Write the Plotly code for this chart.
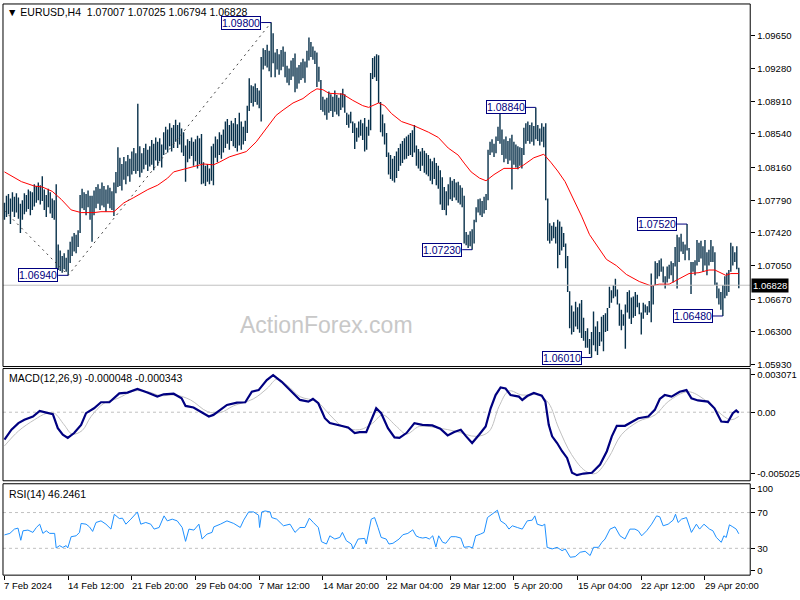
import plotly.graph_objects as go

# ---------------- data ----------------
high = [
 1.0776,1.0784,1.0786,1.0781,1.0788,1.0783,1.0787,1.0782,1.0775,1.0779,
 1.0787,1.0785,1.0791,1.0789,1.0788,1.0797,1.0795,1.0799,1.0796,1.0806,
 1.0791,1.0785,1.0792,1.0788,1.0781,1.0779,1.0797,1.0729,1.0722,1.0716,
 1.0719,1.0714,1.0723,1.0732,1.0738,1.0742,1.0740,1.0745,1.0785,1.0792,
 1.0788,1.0786,1.0790,1.0784,1.0784,1.0790,1.0794,1.0797,1.0792,1.0799,
 1.0795,1.0791,1.0796,1.0793,1.0789,1.0799,1.0811,1.0839,1.0827,1.0820,
 1.0828,1.0823,1.0830,1.0826,1.0834,1.0838,1.0832,1.0888,1.0840,1.0832,
 1.0838,1.0843,1.0836,1.0840,1.0847,1.0843,1.0850,1.0845,1.0849,1.0842,
 1.0856,1.0862,1.0859,1.0866,1.0861,1.0864,1.0870,1.0864,1.0867,1.0860,
 1.0856,1.0841,1.0848,1.0846,1.0850,1.0845,1.0848,1.0852,1.0849,1.0854,
 1.0822,1.0818,1.0820,1.0815,1.0840,1.0843,1.0851,1.0848,1.0856,1.0853,
 1.0859,1.0868,1.0871,1.0864,1.0869,1.0866,1.0872,1.0865,1.0878,1.0868,
 1.0862,1.0869,1.0886,1.0917,1.0909,1.0908,1.0911,1.0906,1.0903,1.0941,
 1.0951,1.0949,1.0955,1.0948,1.0980,1.0968,1.0946,1.0950,1.0944,1.0949,
 1.0953,1.0947,1.0931,1.0928,1.0937,1.0940,1.0945,1.0929,1.0932,1.0935,
 1.0939,1.0936,1.0948,1.0963,1.0958,1.0953,1.0948,1.0946,1.0930,1.0915,
 1.0896,1.0893,1.0895,1.0902,1.0899,1.0896,1.0903,1.0898,1.0895,1.0900,
 1.0905,1.0899,1.0878,1.0876,1.0879,1.0868,1.0866,1.0861,1.0868,1.0870,
 1.0866,1.0872,1.0862,1.0870,1.0923,1.0940,1.0942,1.0944,1.0943,1.0890,
 1.0876,1.0866,1.0855,1.0833,1.0830,1.0826,1.0829,1.0834,1.0838,1.0843,
 1.0846,1.0849,1.0851,1.0853,1.0855,1.0858,1.0864,1.0841,1.0837,1.0834,
 1.0838,1.0835,1.0832,1.0830,1.0826,1.0823,1.0827,1.0821,1.0818,1.0813,
 1.0805,1.0794,1.0789,1.0797,1.0805,1.0801,1.0803,1.0799,1.0800,1.0796,
 1.0793,1.0784,1.0743,1.0740,1.0744,1.0746,1.0757,1.0771,1.0780,1.0781,
 1.0778,1.0783,1.0786,1.0836,1.0845,1.0848,1.0843,1.0851,1.0862,1.0877,
 1.0859,1.0848,1.0851,1.0846,1.0849,1.0853,1.0845,1.0842,1.0840,1.0839,
 1.0838,1.0861,1.0866,1.0868,1.0864,1.0867,1.0863,1.0884,1.0864,1.0860,
 1.0866,1.0862,1.0866,1.0781,1.0753,1.0750,1.0754,1.0749,1.0757,1.0755,
 1.0749,1.0742,1.0730,1.0716,1.0676,1.0660,1.0653,1.0664,1.0658,1.0662,
 1.0666,1.0646,1.0631,1.0634,1.0622,1.0630,1.0653,1.0636,1.0642,1.0630,
 1.0647,1.0649,1.0651,1.0657,1.0681,1.0677,1.0683,1.0690,1.0678,1.0662,
 1.0655,1.0650,1.0661,1.0675,1.0677,1.0669,1.0670,1.0675,1.0672,1.0663,
 1.0652,1.0663,1.0661,1.0659,1.0665,1.0696,1.0683,1.0710,1.0708,1.0711,
 1.0713,1.0704,1.0693,1.0704,1.0706,1.0710,1.0708,1.0726,1.0740,1.0737,
 1.0741,1.0732,1.0729,1.0752,1.0725,1.0709,1.0709,1.0711,1.0734,1.0731,
 1.0733,1.0727,1.0734,1.0720,1.0723,1.0734,1.0727,1.0720,1.0686,1.0679,
 1.0675,1.0683,1.0693,1.0697,1.0700,1.0731,1.0727,1.0720,1.0727,1.07025,
]
low = [
 1.0757,1.0760,1.0763,1.0752,1.0766,1.0760,1.0765,1.0758,1.0742,1.0757,
 1.0763,1.0766,1.0769,1.0762,1.0768,1.0772,1.0776,1.0779,1.0774,1.0778,
 1.0768,1.0760,1.0771,1.0764,1.0759,1.0757,1.0698,1.0700,1.0699,1.0697,
 1.0701,1.0698,1.0694,1.0708,1.0716,1.0721,1.0719,1.0726,1.0742,1.0770,
 1.0768,1.0762,1.0771,1.0757,1.0732,1.0762,1.0770,1.0775,1.0768,1.0773,
 1.0771,1.0766,1.0775,1.0770,1.0768,1.0761,1.0787,1.0794,1.0795,1.0790,
 1.0802,1.0797,1.0806,1.0800,1.0808,1.0812,1.0809,1.0812,1.0805,1.0810,
 1.0814,1.0819,1.0812,1.0817,1.0819,1.0813,1.0824,1.0818,1.0823,1.0816,
 1.0830,1.0836,1.0833,1.0840,1.0834,1.0838,1.0845,1.0838,1.0842,1.0833,
 1.0829,1.0800,1.0822,1.0826,1.0829,1.0818,1.0823,1.0815,1.0820,1.0797,
 1.0798,1.0795,1.0800,1.0797,1.0801,1.0796,1.0827,1.0822,1.0830,1.0826,
 1.0833,1.0838,1.0843,1.0836,1.0846,1.0840,1.0838,1.0834,1.0841,1.0836,
 1.0842,1.0846,1.0855,1.0880,1.0889,1.0885,1.0890,1.0887,1.0883,1.0868,
 1.0927,1.0931,1.0929,1.0925,1.0918,1.0934,1.0918,1.0927,1.0921,1.0926,
 1.0930,1.0918,1.0912,1.0909,1.0915,1.0919,1.0901,1.0905,1.0911,1.0915,
 1.0917,1.0912,1.0929,1.0937,1.0941,1.0938,1.0933,1.0907,1.0913,1.0881,
 1.0879,1.0875,1.0870,1.0878,1.0880,1.0873,1.0879,1.0876,1.0874,1.0881,
 1.0884,1.0878,1.0864,1.0861,1.0866,1.0855,1.0837,1.0845,1.0850,1.0852,
 1.0847,1.0834,1.0836,1.0852,1.0858,1.0916,1.0918,1.0914,1.0889,1.0856,
 1.0851,1.0842,1.0828,1.0808,1.0803,1.0801,1.0799,1.0804,1.0812,1.0818,
 1.0821,1.0825,1.0826,1.0829,1.0830,1.0828,1.0833,1.0818,1.0815,1.0812,
 1.0818,1.0810,1.0808,1.0806,1.0801,1.0797,1.0803,1.0796,1.0792,1.0774,
 1.0768,1.0768,1.0762,1.0773,1.0780,1.0778,1.0782,1.0779,1.0776,1.0774,
 1.0771,1.0730,1.0728,1.0725,1.0727,1.0723,1.0730,1.0754,1.0765,1.0762,
 1.0760,1.0764,1.0768,1.0779,1.0830,1.0833,1.0828,1.0832,1.0846,1.0843,
 1.0830,1.0822,1.0826,1.0820,1.0824,1.0791,1.0819,1.0816,1.0814,1.0818,
 1.0815,1.0830,1.0843,1.0846,1.0843,1.0845,1.0841,1.0848,1.0846,1.0841,
 1.0845,1.0839,1.0779,1.0733,1.0730,1.0733,1.0736,1.0730,1.0702,1.0717,
 1.0722,1.0726,1.0702,1.0675,1.0634,1.0627,1.0630,1.0636,1.0633,1.0629,
 1.0623,1.0620,1.0612,1.0612,1.0605,1.0601,1.0615,1.0608,1.0604,1.0614,
 1.0619,1.0608,1.0630,1.0631,1.0657,1.0663,1.0668,1.0670,1.0661,1.0637,
 1.0632,1.0637,1.0611,1.0652,1.0645,1.0639,1.0646,1.0648,1.0658,1.0650,
 1.0627,1.0645,1.0652,1.0649,1.0652,1.0641,1.0661,1.0683,1.0690,1.0693,
 1.0698,1.0686,1.0679,1.0686,1.0690,1.0694,1.0686,1.0704,1.0679,1.0709,
 1.0721,1.0718,1.0711,1.0722,1.0711,1.0673,1.0698,1.0694,1.0705,1.0709,
 1.0713,1.0698,1.0705,1.0694,1.0705,1.0709,1.0709,1.0683,1.0668,1.0661,
 1.0655,1.0648,1.0668,1.0671,1.0675,1.0698,1.0705,1.0709,1.0701,1.06794,
]
last_close = 1.06828

ma_x = [0, 8.5, 15, 19, 24, 28.5, 33.5, 38.5, 45, 48.5, 55, 60, 65, 72, 77, 82, 85, 92,
        100, 105, 108, 113, 121.5, 126.5, 131.5, 136.5, 140, 145, 150, 154, 157, 160, 163,
        170, 175, 180, 183, 186, 188, 191, 194.5, 199.5, 206, 213, 218, 223, 228, 231,
        234.5, 238.7, 242, 246, 251, 258, 261, 266, 271, 274.5, 278, 281.7, 286, 290, 294,
        298, 302.5, 307.5, 312.5, 319, 325, 329, 334, 339, 344, 349, 354, 357, 362.5, 365, 369]
ma_v = [1.0811, 1.0800, 1.0795, 1.0794, 1.0789, 1.0780, 1.0768, 1.0765, 1.0765, 1.0766,
        1.0766, 1.0776, 1.0782, 1.0791, 1.0796, 1.0804, 1.0811, 1.0815, 1.0820, 1.0819,
        1.0822, 1.0828, 1.0834, 1.0845, 1.0860, 1.0875, 1.0881, 1.0889, 1.0894, 1.0901,
        1.0905, 1.0904, 1.0900, 1.0899, 1.0892, 1.0886, 1.0884, 1.0887, 1.0889, 1.0886,
        1.0877, 1.0868, 1.0863, 1.0856, 1.0850, 1.0838, 1.0830, 1.0821, 1.0811, 1.0804,
        1.0801, 1.0808, 1.0815, 1.0815, 1.0819, 1.0827, 1.0831, 1.0822, 1.0812, 1.0800,
        1.0780, 1.0761, 1.0740, 1.0727, 1.0712, 1.0705, 1.0695, 1.0687, 1.0682, 1.0684,
        1.0684, 1.0690, 1.0696, 1.0697, 1.0700, 1.0700, 1.0694, 1.0696, 1.0696]

zig_x = [0, 32, 134]
zig_v = [1.0767, 1.0694, 1.0980]

ext_idx = [32, 134, 235, 267, 295, 343, 361]
ext_val = [1.0694, 1.0980, 1.0723, 1.0884, 1.0601, 1.0752, 1.0648]

macd_x = [0, 3.5, 7, 10, 14.3, 17.7, 21, 24.3, 26.8, 29.3, 31.8, 35, 38.5, 41, 45, 48.5, 52.7,
          55, 57.7, 61.8, 66.8, 71.8, 76.8, 80, 85, 89, 91, 95, 98.5, 102.7, 105, 111.8,
          116.8, 121, 124.3, 127.7, 131.8, 135, 139.3, 143.5, 148.5, 152.7, 155, 157.7, 161,
          163.5, 168.5, 172.7, 176, 178.5, 181.8, 184.3, 186.8, 189.3, 192.7, 196, 198.5,
          202, 206, 210, 215, 219, 222.7, 226, 229.3, 232, 235, 238.5, 241.8, 244.3, 246.8,
          249.3, 251.8, 254.3, 258.5, 260.2, 262.7, 266, 270, 271.8, 273.5, 275.2, 277.7,
          280.2, 282.7, 285.2, 287.7, 291, 295.2, 299.3, 302.7, 305.2, 307.7, 311.8, 315.2,
          318.5, 323.5, 326.8, 329.3, 331.8, 335.2, 339.3, 342.7, 345.2, 348.5, 353.5, 356.8,
          360.2, 363.5, 366, 367.7, 369]
macd_v = [-0.00224, -0.00143, -0.00089, -0.00062, -0.00035, 0.00010, -0.00003, -0.00016,
          -0.00130, -0.00184, -0.00210, -0.00170, -0.00103, -0.00008, 0.00032, 0.00081,
          0.00081, 0.00113, 0.00154, 0.00160, 0.00189, 0.00160, 0.00127, 0.00146, 0.00151,
          0.00113, 0.00051, 0.00038, 0.00006, -0.00035, -0.00022, 0.00059, 0.00078, 0.00081,
          0.00167, 0.00180, 0.00262, 0.00302, 0.00248, 0.00180, 0.00100, 0.00086, 0.00108,
          0.00073, -0.00049, -0.00089, -0.00108, -0.00124, -0.00170, -0.00162, -0.00162,
          -0.00062, 0.00032, -0.00008, -0.00130, -0.00205, -0.00210, -0.00170, -0.00089,
          -0.00103, -0.00108, -0.00135, -0.00189, -0.00162, -0.00143, -0.00197, -0.00251,
          -0.00184, -0.00116, 0.00032, 0.00140, 0.00202, 0.00193, 0.00140, 0.00127, 0.00100,
          0.00132, 0.00157, 0.00135, 0.00086, -0.00103, -0.00197, -0.00251, -0.00318,
          -0.00373, -0.00494, -0.00513, -0.00500, -0.00494, -0.00427, -0.00318, -0.00197,
          -0.00111, -0.00111, -0.00081, -0.00049, -0.00035, 0.00019, 0.00108, 0.00140,
          0.00127, 0.00167, 0.00180, 0.00113, 0.00096, 0.00086, 0.00032, -0.00076, -0.00081,
          -0.00008, 0.00014, -0.000048]

sig_x = [0, 7, 15, 21, 25, 30, 34, 39, 43.5, 50, 57, 65, 72, 78.5, 86, 93.5, 102, 108.5,
         115, 125, 132, 137, 142, 148.5, 157, 163.5, 170, 178.5, 185, 190, 197, 202, 208.5,
         218.5, 227, 237, 243.5, 248.5, 253.5, 260, 268.5, 273.5, 278.5, 285, 292, 297,
         303.5, 310, 318.5, 327, 333.5, 343.5, 352, 358.5, 365, 369]
sig_v = [-0.00275, -0.00154, -0.00062, -0.00010, -0.00008, -0.00103, -0.00178, -0.00150,
         -0.00035, 0.00073, 0.00113, 0.00173, 0.00167, 0.00135, 0.00140, 0.00100, 0.00005,
         -0.00003, 0.00051, 0.00108, 0.00194, 0.00270, 0.00221, 0.00127, 0.00086, -0.00022,
         -0.00116, -0.00143, -0.00089, -0.00022, -0.00116, -0.00178, -0.00116, -0.00130,
         -0.00157, -0.00197, -0.00157, 0.00046, 0.00173, 0.00140, 0.00140, 0.00073, -0.00130,
         -0.00346, -0.00480, -0.00500, -0.00373, -0.00184, -0.00076, -0.00022, 0.00086,
         0.00167, 0.00100, 0.00005, -0.00062, -0.000343]

rsi_x = [0, 2.7, 5, 6.8, 8.2, 9.3, 11.8, 14.3, 16, 17.7, 19.3, 21, 22.7, 25.2, 26, 27.7, 29.3,
         31, 31.8, 33.5, 36, 37.7, 38.5, 41, 42.7, 44.3, 46, 48.5, 51, 53.5, 55.2, 57.7, 59.3,
         61, 63.5, 66.8, 68.5, 71, 73.5, 75.2, 77.7, 80.2, 81.8, 84.3, 86.8, 89.3, 91, 92.7,
         95.2, 97.7, 99.3, 101.8, 104.3, 105.2, 108.5, 111.8, 115.2, 118.5, 120.2, 122.7,
         125.2, 127.7, 128.2, 129.3, 131, 133.5, 134.3, 136.8, 140.2, 143.5, 146, 148.5, 151,
         153.2, 155.2, 157.7, 159.3, 161.8, 163.5, 166, 168.5, 169.8, 171.8, 174.3, 175.2,
         177.7, 181, 181.8, 184.3, 186, 187.7, 189.3, 191.8, 193.2, 195.2, 198.3, 200.2, 202.7,
         205.2, 206.8, 208.5, 210.2, 211.8, 213.5, 215.2, 216.8, 218.2, 220.2, 221.8, 224.3,
         226.8, 229.3, 231, 233.5, 235.2, 236.8, 239.3, 241, 242.7, 245.2, 247.7, 249.3, 251.8,
         253.5, 255.2, 257.7, 260.2, 262.7, 265.2, 266.5, 267.7, 270.2, 271.5, 272.7, 275.2,
         277.7, 280.2, 281.8, 284.3, 286.8, 289.3, 291.8, 294.3, 296, 298.5, 300.2, 301.8,
         304.3, 306.8, 309.3, 311.8, 314.3, 316.8, 318.5, 320.2, 322.7, 325.2, 327.7, 329.3,
         331, 333.5, 336, 337.2, 338.5, 340.2, 342.7, 345.2, 347.7, 349.3, 351.5, 354.3, 356,
         357.7, 360.2, 361.5, 362.7, 364.3, 366, 367.7, 369]
rsi_v = [45, 46.7, 51.5, 52.6, 39, 49.6, 50.4, 47.8, 53.3, 57, 46.7, 49.6, 46.7, 46.7, 30.4,
         33, 31, 33, 30.4, 43, 44, 47.8, 57.8, 57, 54, 48.9, 58.9, 60.7, 57, 51.5, 68, 63.3,
         63.7, 57, 62.6, 70.7, 57, 58.9, 57, 51.5, 53.3, 66.3, 60.7, 62.6, 60.7, 53.3, 37.8,
         51.5, 50.4, 57, 40.4, 45.9, 47.8, 54, 57, 60.7, 57.8, 53.3, 61.5, 70.7, 70.7, 67,
         53.3, 70.7, 71.8, 70.7, 64.4, 62.6, 55.2, 57, 47.8, 53.3, 53.3, 63.7, 58.9, 53.3,
         37.4, 34.8, 44, 40.4, 42.2, 47.8, 38.5, 34.8, 29.3, 40.4, 41.1, 34.8, 62.6, 64.4,
         53.3, 42.2, 40.4, 34.8, 35.6, 40.4, 45.2, 46.7, 50.7, 44, 42.2, 41.5, 42.2, 40.4, 44,
         31.5, 44, 36.7, 35.6, 43, 43, 41.5, 31.1, 31.9, 30.4, 44, 46, 47.8, 64.4, 68.9, 72.6,
         60.7, 57, 51.5, 55.2, 53.3, 51.5, 60.7, 61.5, 66.3, 57, 55.2, 57, 31.1, 29.3, 31.1,
         27.4, 29.3, 20, 20.7, 25.6, 26.7, 21.9, 31.1, 31.1, 36.7, 40.4, 51.5, 54, 44, 40.4,
         51.5, 51.5, 49.6, 44, 49.6, 57, 66.3, 65.2, 55.2, 57, 61.5, 68.1, 58.9, 62.6, 64.4,
         47.8, 57, 51.5, 57, 51.5, 49.6, 42.2, 36.7, 44, 42.2, 56.3, 54, 51.5, 46.25]

price_ticks = [1.09650, 1.09280, 1.08910, 1.08540, 1.08160, 1.07790, 1.07420,
               1.07050, 1.06670, 1.06300, 1.05930]
date_idx = [0, 32, 64, 96, 128, 160, 192, 224, 256, 288, 320, 352]
date_labels = ["7 Feb 2024", "14 Feb 12:00", "21 Feb 20:00", "29 Feb 04:00", "7 Mar 12:00",
               "14 Mar 20:00", "22 Mar 04:00", "29 Mar 12:00", "5 Apr 20:00", "15 Apr 04:00",
               "22 Apr 12:00", "29 Apr 20:00"]

# ---------------- figure ----------------
W, H = 800, 600
FONT = "Liberation Sans, Arial, sans-serif"
SMALL = 9.5
BAR_COL = "#07304a"
NAVY = "#000080"


def px(xp):
    return xp / W


def py(yp):
    return 1 - yp / H


XR = [-0.75, 374.75]

fig = go.Figure()

# price bars (vertical high-low lines)
bx, by = [], []
for i, (h, l) in enumerate(zip(high, low)):
    bx += [i, i, None]
    by += [l, h, None]
fig.add_trace(go.Scatter(x=bx, y=by, mode="lines", line=dict(color=BAR_COL, width=1.4),
                         hoverinfo="skip", yaxis="y"))
# moving average
fig.add_trace(go.Scatter(x=ma_x, y=ma_v, mode="lines", line=dict(color="#ff0000", width=1),
                         yaxis="y"))
# zigzag
fig.add_trace(go.Scatter(x=zig_x, y=zig_v, mode="lines",
                         line=dict(color="#404040", width=1, dash="2px,4px"), yaxis="y"))
# current price line
fig.add_trace(go.Scatter(x=XR, y=[last_close, last_close], mode="lines",
                         line=dict(color="#c0c0c0", width=1), yaxis="y"))

# MACD
fig.add_trace(go.Scatter(x=XR, y=[0, 0], mode="lines",
                         line=dict(color="#c0c0c0", width=1, dash="3px,3px"), yaxis="y2"))
fig.add_trace(go.Scatter(x=sig_x, y=sig_v, mode="lines", line=dict(color="#c0c0c0", width=1),
                         line_shape="spline", yaxis="y2"))
fig.add_trace(go.Scatter(x=macd_x, y=macd_v, mode="lines", line=dict(color=NAVY, width=2.2),
                         yaxis="y2"))

# RSI
for lv in (70, 30):
    fig.add_trace(go.Scatter(x=XR, y=[lv, lv], mode="lines",
                             line=dict(color="#c0c0c0", width=1, dash="3px,3px"), yaxis="y3"))
fig.add_trace(go.Scatter(x=rsi_x, y=rsi_v, mode="lines", line=dict(color="#1e90ff", width=1),
                         yaxis="y3"))

# extreme labels
shapes = []
annotations = []
for idx, val in zip(ext_idx, ext_val):
    shapes.append(dict(type="line", xref="x", yref="y", x0=idx - 5, x1=idx, y0=val, y1=val,
                       line=dict(color=NAVY, width=1)))
    annotations.append(dict(x=idx - 5, y=val, xref="x", yref="y", text=f"{val:.5f}",
                            showarrow=False, xanchor="right", yanchor="middle",
                            font=dict(family=FONT, size=10.5, color=NAVY),
                            bgcolor="white", bordercolor=NAVY, borderwidth=1, borderpad=0))

# panel frames
for (t, b) in [(3, 368), (370, 483), (486, 578)]:
    shapes.append(dict(type="rect", xref="paper", yref="paper", x0=px(3), x1=px(754),
                       y0=py(b), y1=py(t), line=dict(color="black", width=1)))

# current price tag
annotations.append(dict(x=px(755), y=last_close, xref="paper", yref="y",
                        text=f"{last_close:.5f}", showarrow=False, xanchor="left",
                        yanchor="middle", font=dict(family=FONT, size=SMALL, color="white"),
                        bgcolor="black", borderpad=1))

# titles
annotations.append(dict(x=px(5), y=py(11), xref="paper", yref="paper",
                        text="▼ EURUSD,H4  1.07007 1.07025 1.06794 1.06828",
                        showarrow=False, xanchor="left", yanchor="middle",
                        font=dict(family=FONT, size=10.5, color="black")))
annotations.append(dict(x=px(7), y=py(380), xref="paper", yref="paper",
                        text="MACD(12,26,9) -0.000048 -0.000343",
                        showarrow=False, xanchor="left", yanchor="middle",
                        font=dict(family=FONT, size=10.5, color="black")))
annotations.append(dict(x=px(7), y=py(496), xref="paper", yref="paper",
                        text="RSI(14) 46.2461",
                        showarrow=False, xanchor="left", yanchor="middle",
                        font=dict(family=FONT, size=10.5, color="black")))
# watermark
annotations.append(dict(x=px(328), y=py(326), xref="paper", yref="paper",
                        text="ActionForex.com", showarrow=False,
                        font=dict(family="Liberation Sans, sans-serif", size=23,
                                  color="#c8c8c8")))
# date labels
for idx, lab in zip(date_idx, date_labels):
    annotations.append(dict(x=idx, y=py(588), xref="x", yref="paper", text=lab,
                            showarrow=False, xanchor="left", yanchor="middle", xshift=-2,
                            font=dict(family=FONT, size=SMALL, color="black")))

axis_font = dict(family=FONT, size=SMALL, color="black")
common_y = dict(side="right", anchor="x", showgrid=False, zeroline=False,
                ticks="outside", ticklen=4, tickcolor="black", tickfont=axis_font)
fig.update_layout(
    width=W, height=H, margin=dict(l=0, r=0, t=0, b=0),
    paper_bgcolor="white", plot_bgcolor="white", showlegend=False,
    xaxis=dict(domain=[px(3), px(754)], range=XR, anchor="y3",
               showgrid=False, zeroline=False, showline=False,
               tickvals=date_idx, ticks="outside", ticklen=4, tickcolor="black",
               showticklabels=False),
    yaxis=dict(domain=[py(368), py(3)], range=[1.05908, 1.10010],
               tickvals=price_ticks, ticktext=[f"{v:.5f}" for v in price_ticks], **common_y),
    yaxis2=dict(domain=[py(483), py(370)], range=[-0.00559, 0.00356],
                tickvals=[0.003071, 0, -0.005025],
                ticktext=["0.003071", "0.00", "-0.005025"], **common_y),
    yaxis3=dict(domain=[py(578), py(486)], range=[0, 102.2],
                tickvals=[96.5, 70, 30, 5.5], ticktext=["100", "70", "30", "0"], **common_y),
    shapes=shapes, annotations=annotations,
)

fig.write_html("out.html", config={"displayModeBar": False},
               post_script="document.body.style.margin='0px';document.body.style.overflow='hidden';")
